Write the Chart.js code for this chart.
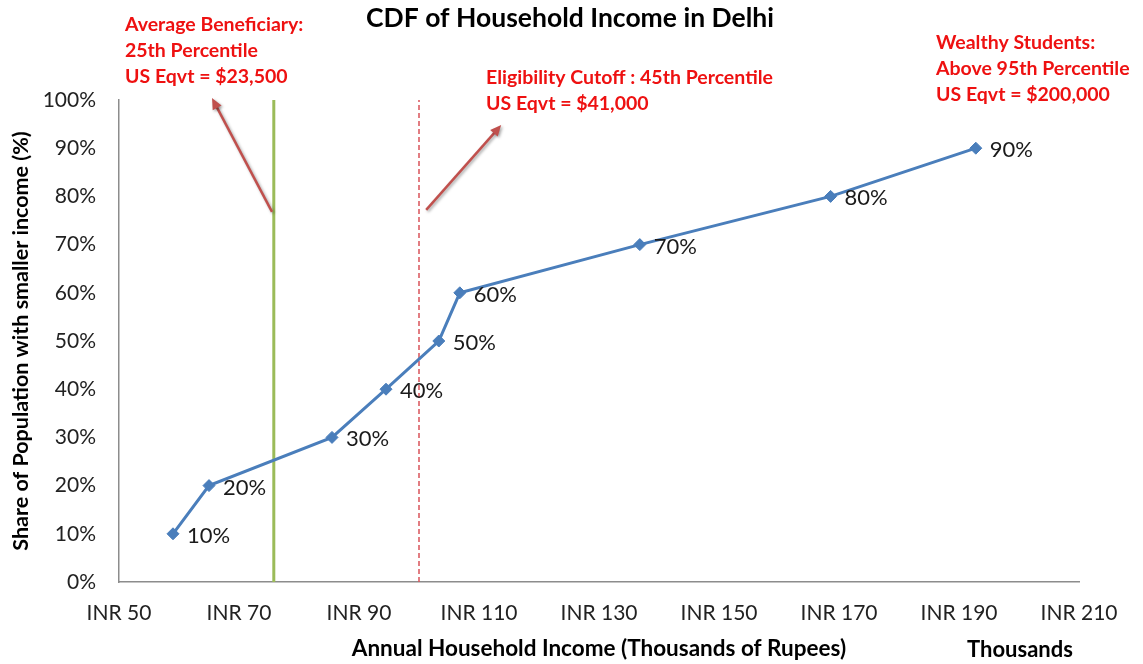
<!DOCTYPE html>
<html>
<head>
<meta charset="utf-8">
<script src="https://cdn.jsdelivr.net/npm/chart.js@4.4.1/dist/chart.umd.min.js"></script>
<style>
  html, body { margin: 0; padding: 0; background: #fff; }
  #wrap { width: 1143px; height: 664px; position: relative; }
</style>
</head>
<body>
<div id="wrap"><canvas id="c" width="1143" height="664"></canvas></div>
<script>
// ---- data ----
const incomeK = [59.0, 65.0, 85.5, 94.5, 103.3, 106.8, 136.8, 168.6, 192.8];
const sharePct = [10, 20, 30, 40, 50, 60, 70, 80, 90];
const pointLabels = ['10%', '20%', '30%', '40%', '50%', '60%', '70%', '80%', '90%'];
const beneficiaryX = [75.8, 75.8];
const beneficiaryY = [0, 100];
const cutoffX = [100, 100];
const cutoffY = [0, 100.4];
const xTickValues = [50, 70, 90, 110, 130, 150, 170, 190, 210];
const yTickValues = [0, 10, 20, 30, 40, 50, 60, 70, 80, 90, 100];
const arrow1 = [[75.5, 76.8], [65.5, 100.4]];   // [tail, head] in data units
const arrow2 = [[101.2, 77.2], [113.7, 94.8]];
const noteBeneficiary = ['Average Beneficiary:', '25th Percentile', 'US Eqvt = $23,500'];
const noteCutoff = ['Eligibility Cutoff : 45th Percentile', 'US Eqvt = $41,000'];
const noteWealthy = ['Wealthy Students:', 'Above 95th Percentile', 'US Eqvt = $200,000'];
const chartTitle = 'CDF of Household Income in Delhi';
const xTitle = 'Annual Household Income (Thousands of Rupees)';
const yTitle = 'Share of Population with smaller income (%)';
const unitNote = 'Thousands';

const FONT = 'Lato, "Open Sans", "DejaVu Sans", sans-serif';
const toXY = (xs, ys) => xs.map((x, i) => ({ x: x, y: ys[i] }));

const decorPlugin = {
  id: 'decor',
  afterDatasetsDraw(chart) {
    const ctx = chart.ctx;
    const xs = chart.scales.x, ys = chart.scales.y;
    // data labels
    const meta = chart.getDatasetMeta(0);
    ctx.save();
    ctx.font = '22px ' + FONT;
    ctx.fillStyle = '#1a1a1a';
    ctx.textBaseline = 'middle';
    ctx.textAlign = 'left';
    meta.data.forEach((el, i) => {
      ctx.fillText(pointLabels[i], el.x + 14, el.y + 2);
    });
    ctx.restore();
    // arrows
    const drawArrow = (a) => {
      const x1 = xs.getPixelForValue(a[0][0]), y1 = ys.getPixelForValue(a[0][1]);
      const x2 = xs.getPixelForValue(a[1][0]), y2 = ys.getPixelForValue(a[1][1]);
      const ang = Math.atan2(y2 - y1, x2 - x1);
      ctx.save();
      ctx.shadowColor = 'rgba(0,0,0,0.35)';
      ctx.shadowBlur = 3;
      ctx.shadowOffsetX = 1.5;
      ctx.shadowOffsetY = 1.5;
      ctx.strokeStyle = '#c0504d';
      ctx.fillStyle = '#c0504d';
      ctx.lineWidth = 2.5;
      ctx.beginPath();
      ctx.moveTo(x1, y1);
      ctx.lineTo(x2 - 8 * Math.cos(ang), y2 - 8 * Math.sin(ang));
      ctx.stroke();
      ctx.beginPath();
      ctx.moveTo(x2, y2);
      ctx.lineTo(x2 - 11 * Math.cos(ang) + 5 * Math.sin(ang), y2 - 11 * Math.sin(ang) - 5 * Math.cos(ang));
      ctx.lineTo(x2 - 11 * Math.cos(ang) - 5 * Math.sin(ang), y2 - 11 * Math.sin(ang) + 5 * Math.cos(ang));
      ctx.closePath();
      ctx.fill();
      ctx.restore();
    };
    drawArrow(arrow1);
    drawArrow(arrow2);
  },
  afterDraw(chart) {
    const ctx = chart.ctx;
    ctx.save();
    ctx.textBaseline = 'middle';
    // title
    ctx.font = 'bold 26.5px ' + FONT;
    ctx.fillStyle = '#000';
    ctx.textAlign = 'center';
    ctx.fillText(chartTitle, 570, 18);
    // notes
    ctx.font = 'bold 19.5px ' + FONT;
    ctx.fillStyle = '#ee1111';
    ctx.textAlign = 'left';
    noteBeneficiary.forEach((t, i) => ctx.fillText(t, 125, 25 + i * 26));
    noteCutoff.forEach((t, i) => ctx.fillText(t, 486, 78 + i * 26));
    noteWealthy.forEach((t, i) => ctx.fillText(t, 936, 43 + i * 26));
    // unit note
    ctx.font = 'bold 22px ' + FONT;
    ctx.fillStyle = '#000';
    ctx.textAlign = 'center';
    ctx.fillText(unitNote, 1020, 650);
    ctx.restore();
  }
};

new Chart(document.getElementById('c'), {
  type: 'scatter',
  data: {
    datasets: [
      {
        data: toXY(incomeK, sharePct),
        showLine: true,
        borderColor: '#4a7ebb',
        backgroundColor: '#4a7ebb',
        borderWidth: 3,
        pointStyle: 'rectRot',
        pointRadius: 6,
        pointBorderWidth: 1,
        order: 0
      },
      {
        data: toXY(beneficiaryX, beneficiaryY),
        showLine: true,
        borderColor: '#9bbb59',
        borderWidth: 3,
        pointRadius: 0,
        order: 1
      },
      {
        data: toXY(cutoffX, cutoffY),
        showLine: true,
        borderColor: '#d9535a',
        borderWidth: 1.5,
        borderDash: [5, 3],
        pointRadius: 0,
        order: 1
      }
    ]
  },
  options: {
    responsive: false,
    animation: false,
    events: [],
    layout: { padding: { left: 8, right: 64, top: 100, bottom: 0 } },
    plugins: { legend: { display: false }, tooltip: { enabled: false }, title: { display: false } },
    scales: {
      x: {
        type: 'linear',
        min: 50, max: 210,
        afterFit(s) { s.height = 82; },
        afterBuildTicks(s) { s.ticks = xTickValues.map(v => ({ value: v })); },
        grid: { display: false, drawTicks: false },
        border: { display: true, color: '#8c8c8c', width: 1.5 },
        ticks: {
          padding: 19,
          color: '#222',
          font: { family: FONT, size: 21 },
          maxRotation: 0,
          autoSkip: false,
          callback: v => 'INR ' + v
        },
        title: {
          display: true,
          text: xTitle,
          color: '#000',
          font: { family: FONT, size: 22.5, weight: 'bold' },
          padding: { top: 0, bottom: 2 }
        }
      },
      y: {
        type: 'linear',
        min: 0, max: 100,
        afterFit(s) { s.width = 111; },
        afterBuildTicks(s) { s.ticks = yTickValues.map(v => ({ value: v })); },
        grid: { display: false, drawTicks: false },
        border: { display: true, color: '#8c8c8c', width: 1.5 },
        ticks: {
          padding: 23,
          color: '#222',
          font: { family: FONT, size: 21 },
          autoSkip: false,
          callback: v => v + '%'
        },
        title: {
          display: true,
          text: yTitle,
          color: '#000',
          font: { family: FONT, size: 21.5, weight: 'bold' },
          padding: { top: 0, bottom: 0 }
        }
      }
    }
  },
  plugins: [decorPlugin]
});
</script>
</body>
</html>
